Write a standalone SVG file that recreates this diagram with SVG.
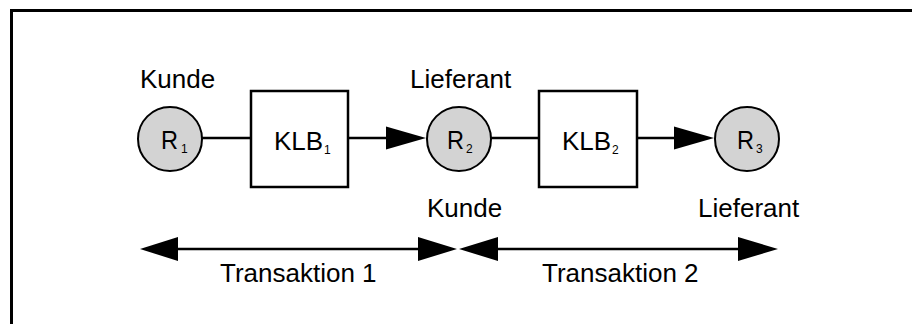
<svg xmlns="http://www.w3.org/2000/svg" width="912" height="324" viewBox="0 0 912 324">
<defs>
<style>
text{font-family:"Liberation Sans",Arial,sans-serif;font-size:26px;fill:#000}
.sub{font-size:12px}
.node circle{fill:#d3d3d3;stroke:#000;stroke-width:2}
.node rect{fill:#fff;stroke:#000;stroke-width:2.5}
.conn line{stroke:#000;stroke-width:2.5}
.head{fill:#000}
</style>
</defs>
<rect x="0" y="0" width="912" height="324" fill="#fff"/>
<rect x="11.5" y="10.5" width="920" height="330" fill="none" stroke="#000" stroke-width="3"/>
<g id="R1" class="node"><circle cx="170" cy="139" r="32"/><text x="161" y="149" textLength="17" lengthAdjust="spacingAndGlyphs">R</text><text class="sub" x="181" y="153">1</text></g>
<g id="KLB1" class="node"><rect x="251" y="91" width="97" height="96"/><text x="274" y="150">KLB</text><text class="sub" x="324" y="154">1</text></g>
<g id="R2" class="node"><circle cx="459" cy="139" r="32"/><text x="447" y="149" textLength="17" lengthAdjust="spacingAndGlyphs">R</text><text class="sub" x="466" y="153">2</text></g>
<g id="KLB2" class="node"><rect x="539" y="91" width="98" height="96"/><text x="562" y="150">KLB</text><text class="sub" x="612" y="154">2</text></g>
<g id="R3" class="node"><circle cx="747" cy="139" r="32"/><text x="737" y="149" textLength="17" lengthAdjust="spacingAndGlyphs">R</text><text class="sub" x="756" y="153">3</text></g>
<g id="labels">
<text x="140" y="88">Kunde</text>
<text x="410" y="88">Lieferant</text>
<text x="427" y="217">Kunde</text>
<text x="698" y="217">Lieferant</text>
<text x="220" y="282">Transaktion 1</text>
<text x="542" y="282">Transaktion 2</text>
</g>
<g id="connectors" class="conn">
<line x1="202" y1="138" x2="251" y2="138"/>
<line x1="348" y1="138" x2="390" y2="138"/>
<polygon class="head" points="386,126.5 426,138 386,149.5"/>
<line x1="491" y1="138" x2="539" y2="138"/>
<line x1="637" y1="138" x2="677" y2="138"/>
<polygon class="head" points="674,126.5 714,138 674,149.5"/>
<line x1="175" y1="249" x2="421" y2="249"/>
<polygon class="head" points="178,237 140,249 178,261"/>
<polygon class="head" points="418,237 457,249 418,261"/>
<line x1="495" y1="249" x2="741" y2="249"/>
<polygon class="head" points="498,237 459,249 498,261"/>
<polygon class="head" points="738,237 778,249 738,261"/>
</g>
</svg>
